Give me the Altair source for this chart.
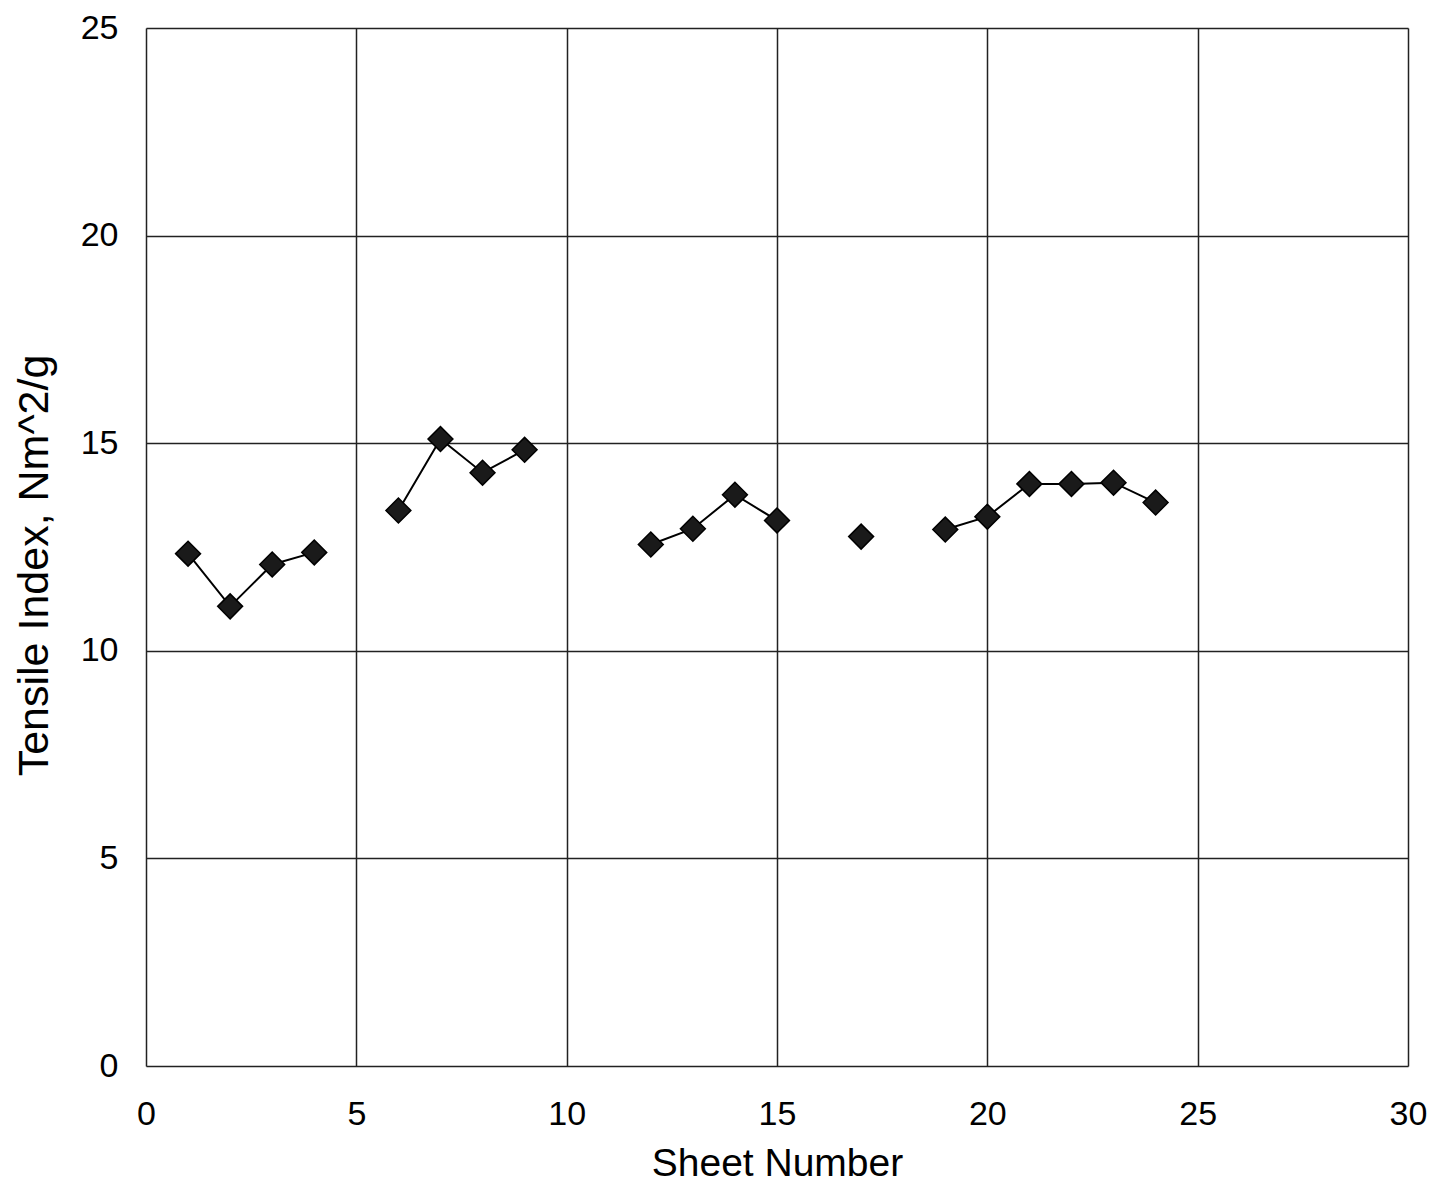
import altair as alt
import pandas as pd

sheet = [1, 2, 3, 4, 6, 7, 8, 9, 12, 13, 14, 15, 17, 19, 20, 21, 22, 23, 24]
tensile = [12.34, 11.07, 12.08, 12.37, 13.38, 15.10, 14.29, 14.84,
           12.56, 12.94, 13.76, 13.14, 12.75, 12.92, 13.23, 14.02, 14.02, 14.05, 13.57]
group = ["a", "a", "a", "a", "b", "b", "b", "b", "c", "c", "c", "c", "d",
         "e", "e", "e", "e", "e", "e"]

df = pd.DataFrame({"sheet": sheet, "tensile": tensile, "group": group})

x = alt.X("sheet:Q", title="Sheet Number",
          scale=alt.Scale(domain=[0, 30], nice=False, zero=True),
          axis=alt.Axis(values=[0, 5, 10, 15, 20, 25, 30], grid=True, ticks=False,
                        domain=False, labelFontSize=34, labelPadding=31,
                        labelFlush=False, labelOverlap=False,
                        labelFont="Liberation Sans", labelColor="black",
                        titleFont="Liberation Sans", titleFontSize=39,
                        titleFontWeight="normal", titleColor="black",
                        titleY=109, titleBaseline="alphabetic",
                        gridColor="#222", gridWidth=1.5, gridOpacity=1))
y = alt.Y("tensile:Q", title="Tensile Index, Nm^2/g",
          scale=alt.Scale(domain=[0, 25], nice=False),
          axis=alt.Axis(values=[0, 5, 10, 15, 20, 25], grid=True, ticks=False,
                        domain=False, labelFontSize=34, labelPadding=28,
                        labelFlush=False, labelOverlap=False,
                        labelFont="Liberation Sans", labelColor="black",
                        titleFont="Liberation Sans", titleFontSize=43,
                        titleFontWeight="normal", titleColor="black",
                        titleX=-99, titleY=537, titleAngle=270,
                        titleBaseline="alphabetic", titleAlign="center",
                        gridColor="#222", gridWidth=1.5, gridOpacity=1))

base = alt.Chart(df)
lines = base.mark_line(color="black", strokeWidth=2).encode(
    x=x, y=y, detail="group:N", order="sheet:Q")
points = base.mark_point(shape="diamond", size=620, filled=True, fill="#1a1a1a",
                         stroke="black", strokeWidth=1.5, opacity=1).encode(x=x, y=y)

chart = (lines + points).properties(
    width=1262, height=1038,
    autosize=alt.AutoSizeParams(type="none"),
    padding={"left": 138, "top": 20, "right": 19, "bottom": 116},
).configure_view(stroke="black", strokeWidth=2).configure(background="white")

chart.save("out.html", embed_options={"renderer": "svg", "actions": False})
